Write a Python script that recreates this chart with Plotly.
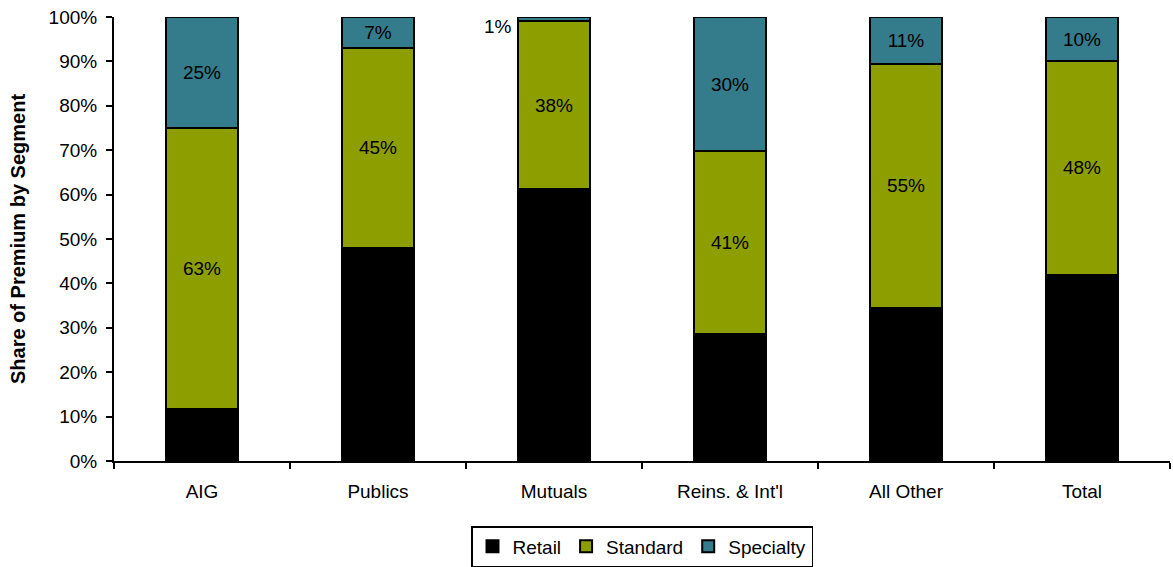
import plotly.graph_objects as go

categories = ["AIG", "Publics", "Mutuals", "Reins. & Int'l", "All Other", "Total"]
retail = [11.7, 48.0, 61.2, 28.5, 34.5, 42.0]
standard = [63.3, 45.0, 37.8, 41.3, 54.9, 48.0]
specialty = [25.0, 7.0, 1.0, 30.2, 10.6, 10.0]
y_ticks = [0, 10, 20, 30, 40, 50, 60, 70, 80, 90, 100]

FONT = "Liberation Sans, Arial, sans-serif"
FS = 19
C_RETAIL = "#000000"
C_STANDARD = "#8C9E00"
C_SPECIALTY = "#347B8B"

def labels(vals, min_val=3):
    return [f"{v:.0f}%" if v >= min_val else "" for v in vals]

fig = go.Figure()
fig.add_trace(go.Bar(x=categories, y=retail, name="Retail",
                     marker=dict(color=C_RETAIL, line=dict(color="black", width=2))))
fig.add_trace(go.Bar(x=categories, y=standard, name="Standard",
                     text=labels(standard), textposition="inside", insidetextanchor="middle",
                     textfont=dict(color="black", size=FS, family=FONT),
                     marker=dict(color=C_STANDARD, line=dict(color="black", width=2))))
fig.add_trace(go.Bar(x=categories, y=specialty, name="Specialty",
                     text=labels(specialty), textposition="inside", insidetextanchor="middle",
                     textfont=dict(color="black", size=FS, family=FONT),
                     marker=dict(color=C_SPECIALTY, line=dict(color="black", width=2))))

# small segment labels placed beside the bar
for i, v in enumerate(specialty):
    if v < 3:
        top = retail[i] + standard[i] + specialty[i]
        fig.add_annotation(x=categories[i], y=top, text=f"{v:.0f}%", showarrow=False,
                           xanchor="right", yanchor="top", xshift=-40, yshift=3,
                           font=dict(color="black", size=FS, family=FONT))

fig.update_layout(
    barmode="stack", bargap=0.59,
    width=1173, height=567,
    margin=dict(l=114, r=3, t=17, b=106),
    plot_bgcolor="white", paper_bgcolor="white",
    font=dict(family=FONT, size=FS, color="black"),
    showlegend=True,
    legend=dict(orientation="h", x=0.5, xanchor="center", xref="paper",
                y=-2, yref="container", yanchor="bottom",
                bordercolor="black", borderwidth=1.5, font=dict(size=FS, family=FONT),
                itemsizing="constant", traceorder="normal", itemwidth=30),
    xaxis=dict(showline=True, linecolor="black", linewidth=2, ticks="outside",
               tickson="boundaries", ticklen=6, tickwidth=1.5, tickcolor="black",
               ticklabelstandoff=12, tickfont=dict(size=FS, family=FONT)),
    yaxis=dict(range=[0, 100], tickvals=y_ticks, ticktext=[f"{t}%" for t in y_ticks],
               showline=True, linecolor="black", linewidth=2, ticks="outside",
               ticklen=6, tickwidth=2, tickcolor="black", showgrid=False, zeroline=False,
               ticklabelstandoff=5, tickfont=dict(size=FS, family=FONT),
               title=dict(text="<b>Share of Premium by Segment</b>",
                          font=dict(size=20, family=FONT), standoff=18)),
)

fig.write_html("out.html")
